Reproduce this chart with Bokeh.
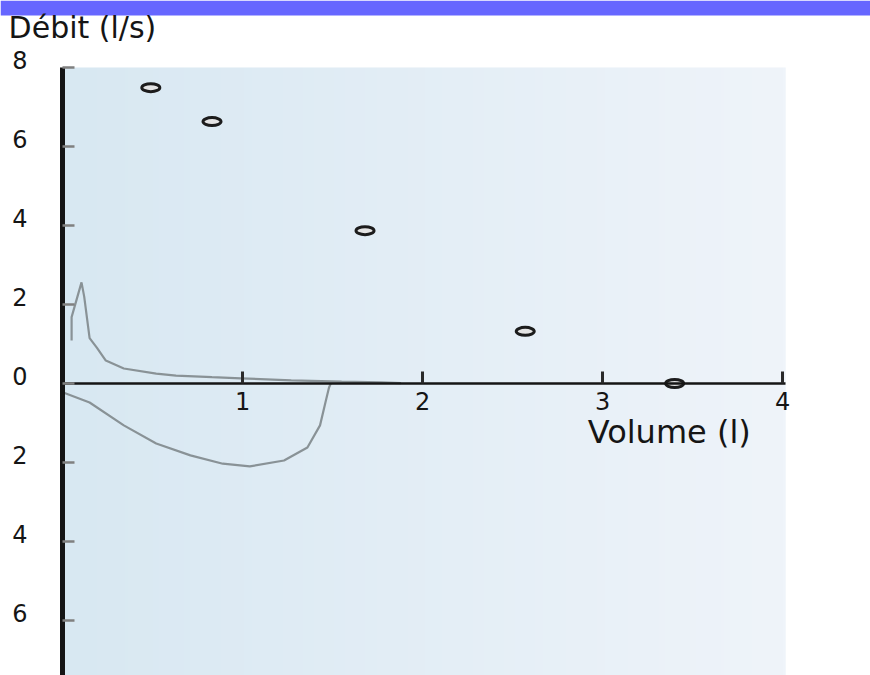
import numpy as np
from bokeh.plotting import figure
from bokeh.models import LinearAxis, FixedTicker, Label, Range1d, BoxAnnotation
from bokeh.embed import file_html
from bokeh.resources import INLINE

# Expiratory limb of the flow-volume loop: volume (l) and flow (l/s)
exp_volume = [0.05, 0.05, 0.105, 0.12, 0.15, 0.19, 0.24, 0.34, 0.52, 0.63,
              0.83, 0.99, 1.27, 1.55, 1.77, 1.88]
exp_flow = [1.09, 1.68, 2.56, 2.20, 1.15, 0.91, 0.58, 0.38, 0.25, 0.20,
            0.16, 0.13, 0.08, 0.05, 0.03, 0.01]

# Inspiratory limb (negative flow)
insp_volume = [0.0, 0.15, 0.34, 0.52, 0.71, 0.89, 1.04, 1.23, 1.36, 1.43,
               1.46, 1.48, 1.49]
insp_flow = [-0.22, -0.48, -1.06, -1.52, -1.82, -2.03, -2.10, -1.95, -1.62,
             -1.06, -0.48, -0.10, 0.0]

# Predicted reference points
ref_volume = [0.49, 0.83, 1.68, 2.57, 3.40]
ref_flow = [7.49, 6.63, 3.87, 1.32, 0.0]

# Axis ticks and their printed labels
x_ticks = [1.0, 2.0, 3.0, 4.0]
y_ticks = [-6.0, -4.0, -2.0, 0.0, 2.0, 4.0, 6.0, 8.0]
y_tick_labels = ["6", "4", "2", "0", "2", "4", "6", "8"]

# The frame spans the whole canvas so the axes can sit at the origin and
# every text stays inside it; the shaded plot area is a sub-rectangle.
X_START, X_AREA_END, X_END = -0.345, 4.017, 4.488
Y_START, Y_TOP, Y_BAND, Y_END = -7.392, 8.0, 9.316, 9.696
FONT = "DejaVu Sans"
INK = "#151515"

p = figure(width=870, height=675,
           x_range=Range1d(X_START, X_END), y_range=Range1d(Y_START, Y_END),
           x_axis_location=None, y_axis_location=None,
           output_backend="svg", toolbar_location=None,
           min_border_left=0, min_border_right=0,
           min_border_top=0, min_border_bottom=0,
           background_fill_color="white", border_fill_color="white")
p.title.visible = False
p.outline_line_color = None
p.grid.visible = False

# Header band across the top of the page
p.add_layout(BoxAnnotation(bottom=Y_BAND, fill_color="#6666ff",
                           fill_alpha=1.0, line_color=None))

# Pale blue horizontal gradient behind the plot area
n = 256
t = np.linspace(0.0, 1.0, n)
c0 = np.array([216, 232, 242])
c1 = np.array([239, 244, 250])
img = np.empty((1, n), dtype=np.uint32)
view = img.view(dtype=np.uint8).reshape((1, n, 4))
for k in range(3):
    view[0, :, k] = (c0[k] + (c1[k] - c0[k]) * t).astype(np.uint8)
view[0, :, 3] = 255
p.image_rgba(image=[img], x=0.0, y=Y_START,
             dw=X_AREA_END, dh=Y_TOP - Y_START)

# Flow-volume loop
p.line(exp_volume, exp_flow, line_color="#899296", line_width=2.2)
p.line(insp_volume, insp_flow, line_color="#899296", line_width=2.2)

# Reference points drawn as small flattened rings
p.ellipse(x=ref_volume, y=ref_flow, width=18, height=8,
          width_units="screen", height_units="screen",
          fill_color="#e4e4e4", line_color="#1c1c1c", line_width=3)

# Volume axis crossing at zero flow
xaxis = LinearAxis(ticker=FixedTicker(ticks=x_ticks), fixed_location=0,
                   bounds=(0.0, X_AREA_END),
                   axis_line_color=INK, axis_line_width=2.5,
                   major_tick_in=12, major_tick_out=0,
                   major_tick_line_color="#2a2a2a", major_tick_line_width=3,
                   minor_tick_line_color=None,
                   major_label_standoff=8,
                   major_label_text_font=FONT,
                   major_label_text_font_size="24px",
                   major_label_text_color=INK)
p.add_layout(xaxis, "below")

# Flow axis at zero volume: line and inward ticks
yaxis = LinearAxis(ticker=FixedTicker(ticks=y_ticks), fixed_location=0,
                   bounds=(Y_START, Y_TOP),
                   major_label_overrides={v: "" for v in y_ticks},
                   axis_line_color=INK, axis_line_width=5,
                   major_tick_in=12, major_tick_out=0,
                   major_tick_line_color="#808080", major_tick_line_width=2.5,
                   minor_tick_line_color=None,
                   major_label_standoff=0)
p.add_layout(yaxis, "left")

# Flow axis labels, printed slightly above their ticks
shift = 0.2
label_pos = [v + shift for v in y_ticks]
ylabels = LinearAxis(ticker=FixedTicker(ticks=label_pos), fixed_location=0,
                     major_label_overrides=dict(zip(label_pos, y_tick_labels)),
                     axis_line_color=None, major_tick_line_color=None,
                     minor_tick_line_color=None,
                     major_label_standoff=29,
                     major_label_text_font=FONT,
                     major_label_text_font_size="24px",
                     major_label_text_color=INK)
p.add_layout(ylabels, "left")

# Axis titles
p.add_layout(Label(x=-0.30, y=9.0, text="Débit (l/s)",
                   text_align="left", text_baseline="alphabetic",
                   text_font=FONT, text_font_size="30px", text_color=INK))
p.add_layout(Label(x=3.37, y=-1.22, text="Volume (l)",
                   text_align="center", text_baseline="middle",
                   text_font=FONT, text_font_size="32px", text_color=INK))

open("out.html", "w").write(file_html(p, INLINE))
